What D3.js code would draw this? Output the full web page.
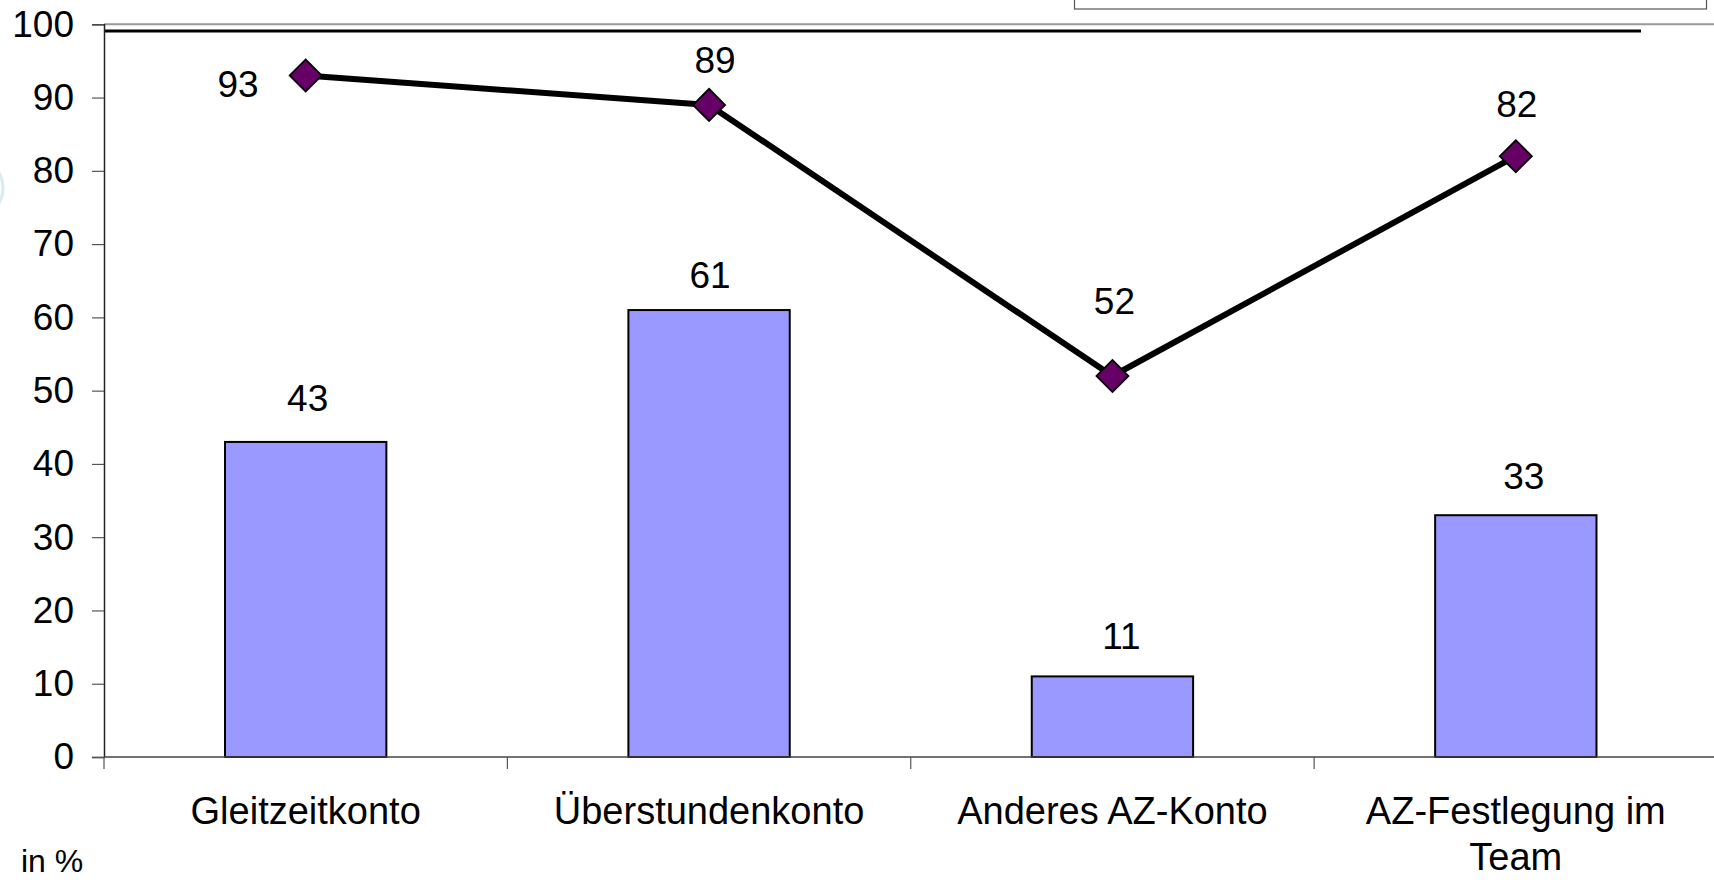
<!DOCTYPE html>
<html>
<head>
<meta charset="utf-8">
<script src="https://cdn.jsdelivr.net/npm/d3@7"></script>
<style>
  html, body { margin: 0; padding: 0; background: #ffffff; overflow: hidden; }
  svg { display: block; font-family: "Liberation Sans", Arial, sans-serif; }
</style>
</head>
<body>
<svg id="chart" width="1714" height="882"></svg>
<script>
// ---- data ----
const categories = ["Gleitzeitkonto", "Überstundenkonto", "Anderes AZ-Konto", "AZ-Festlegung im Team"];
const barValues  = [43, 61, 11, 33];
const lineValues = [93, 89, 52, 82];
const yTicks     = [0, 10, 20, 30, 40, 50, 60, 70, 80, 90, 100];
const unitLabel  = "in %";

// ---- layout ----
const W = 1714, H = 882;
const plotLeft = 104, plotRight = 1717.5, plotTop = 24.3, plotBottom = 757;
// label nudges (dx, dy relative to mark) – layout only
const barLabelNudge  = [[2, -31], [1, -22], [9, -27], [8, -26]];
const lineLabelNudge = [[-47, 21, "end"], [6, -32, "middle"], [2, -62, "middle"], [1, -39, "middle"]];

const svg = d3.select("#chart");

const x = d3.scaleBand().domain(categories).range([plotLeft, plotRight]).padding(0);
const y = d3.scaleLinear().domain([0, 100]).range([plotBottom, plotTop]);
const bw = x.bandwidth();

// faint decorative arc at the left edge (slide background remnant)
svg.append("ellipse")
  .attr("cx", -22).attr("cy", 188).attr("rx", 25).attr("ry", 28)
  .attr("fill", "none").attr("stroke", "#d6ecee").attr("stroke-width", 3);

// legend box remnant at top right
svg.append("rect")
  .attr("x", 1074.5).attr("y", -20).attr("width", 632).attr("height", 29)
  .attr("fill", "#ffffff").attr("stroke", "#555").attr("stroke-width", 1.2);

// plot area top border (grey)
svg.append("line")
  .attr("x1", plotLeft).attr("x2", W).attr("y1", y(100)).attr("y2", y(100))
  .attr("stroke", "#9a9a9a").attr("stroke-width", 2);

// decorative black rule
svg.append("line")
  .attr("x1", plotLeft).attr("x2", 1641).attr("y1", 31).attr("y2", 31)
  .attr("stroke", "#000").attr("stroke-width", 3);

// ---- bars ----
svg.append("g").selectAll("rect")
  .data(barValues)
  .join("rect")
  .attr("x", (d, i) => x(categories[i]) + bw * 0.3)
  .attr("y", d => y(d))
  .attr("width", bw * 0.4)
  .attr("height", d => y(0) - y(d))
  .attr("fill", "#9999ff")
  .attr("stroke", "#000")
  .attr("stroke-width", 2);

// ---- y axis ----
const yAxis = svg.append("g")
  .attr("transform", `translate(${plotLeft},0)`)
  .call(d3.axisLeft(y).tickValues(yTicks).tickSize(12).tickPadding(18).tickFormat(d3.format("d")));
yAxis.select(".domain").attr("stroke", "#222").attr("stroke-width", 1.5);
yAxis.selectAll(".tick line").attr("stroke", "#555").attr("stroke-width", 1.2);
yAxis.selectAll(".tick text")
  .attr("font-size", 37).attr("fill", "#000")
  .attr("font-family", "'Liberation Sans', Arial, sans-serif");

// ---- x axis ----
svg.append("line")
  .attr("x1", plotLeft).attr("x2", W).attr("y1", y(0)).attr("y2", y(0))
  .attr("stroke", "#444").attr("stroke-width", 1.5);
const boundaries = categories.map(c => x(c));
svg.append("g").selectAll("line")
  .data(boundaries)
  .join("line")
  .attr("x1", d => d).attr("x2", d => d)
  .attr("y1", y(0)).attr("y2", y(0) + 12)
  .attr("stroke", "#555").attr("stroke-width", 1.2);

// category labels with wrapping
const catG = svg.append("g")
  .attr("font-size", 38).attr("text-anchor", "middle").attr("fill", "#000");
categories.forEach((c, i) => {
  const t = catG.append("text")
    .attr("x", x(c) + bw / 2)
    .attr("y", y(0) + 66.5);
  const words = c.split(" ");
  let line = [];
  let tspan = t.append("tspan").attr("x", x(c) + bw / 2).attr("dy", 0);
  words.forEach(w => {
    line.push(w);
    tspan.text(line.join(" "));
    if (tspan.node().getComputedTextLength() > bw * 0.92 && line.length > 1) {
      line.pop();
      tspan.text(line.join(" "));
      line = [w];
      tspan = t.append("tspan").attr("x", x(c) + bw / 2).attr("dy", 46).text(w);
    }
  });
});

// ---- line series ----
const cx = i => x(categories[i]) + bw / 2;
const lineGen = d3.line().x((d, i) => cx(i)).y(d => y(d));
svg.append("path")
  .datum(lineValues)
  .attr("d", lineGen)
  .attr("fill", "none")
  .attr("stroke", "#000")
  .attr("stroke-width", 6)
  .attr("stroke-linejoin", "round");

svg.append("g").selectAll("path")
  .data(lineValues)
  .join("path")
  .attr("d", d3.symbol().type(d3.symbolSquare).size(16 * 16 * 2))
  .attr("transform", (d, i) => `translate(${cx(i)},${y(d)}) rotate(45)`)
  .attr("fill", "#660066")
  .attr("stroke", "#000")
  .attr("stroke-width", 1.8);

// ---- value labels ----
svg.append("g").selectAll("text")
  .data(barValues)
  .join("text")
  .attr("x", (d, i) => cx(i) + barLabelNudge[i][0])
  .attr("y", (d, i) => y(d) + barLabelNudge[i][1])
  .attr("text-anchor", "middle")
  .attr("font-size", 37)
  .text(d => d);

svg.append("g").selectAll("text")
  .data(lineValues)
  .join("text")
  .attr("x", (d, i) => cx(i) + lineLabelNudge[i][0])
  .attr("y", (d, i) => y(d) + lineLabelNudge[i][1])
  .attr("text-anchor", (d, i) => lineLabelNudge[i][2])
  .attr("font-size", 37)
  .text(d => d);

// unit label
svg.append("text")
  .attr("x", 21).attr("y", 872)
  .attr("font-size", 32)
  .text(unitLabel);
</script>
</body>
</html>
